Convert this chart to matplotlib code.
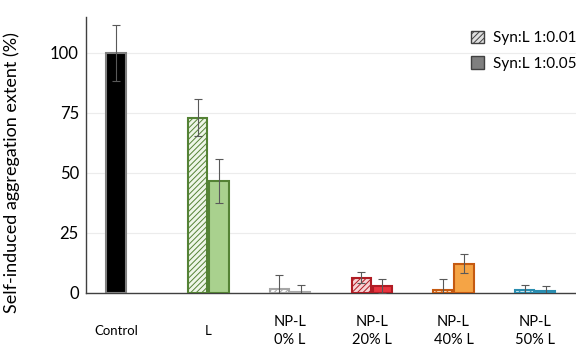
import matplotlib
matplotlib.use('Agg')
import matplotlib.pyplot as plt
import numpy as np
from matplotlib.patches import Patch

plt.rcParams['font.family'] = ['Lato', 'DejaVu Sans']
plt.rcParams['hatch.linewidth'] = 0.7

# data
categories = ['Control', 'L', 'NP-L\n0% L', 'NP-L\n20% L', 'NP-L\n40% L', 'NP-L\n50% L']
low_vals = [100, 73, 1.7, 6.4, 1.1, 1.2]      # Syn:L 1:0.01 (Control in this slot)
low_err = [11.7, 7.7, 5.8, 2.2, 4.5, 2.2]
high_vals = [None, 46.7, 0.5, 2.9, 12.1, 0.9]  # Syn:L 1:0.05
high_err = [None, 9.3, 2.8, 3.0, 4.0, 2.1]
yticks = [0, 25, 50, 75, 100]

# colours per category
face = ['black', '#a9d18e', '#f2f2f2', '#e8343f', '#f5a445', '#3fa9cc']
edge = ['#7f7f7f', '#548235', '#a6a6a6', '#b01c24', '#c55a11', '#2a8db0']
hatch_face = ['black', '#eef6e8', '#ffffff', '#f6d3d5', '#fde5c8', '#d5eef6']

fig = plt.figure(figsize=(5.76, 3.47), dpi=100)
ax = fig.add_axes([0.149, 0.156, 0.851, 0.795])

x = np.arange(len(categories))
w = 0.235
off = 0.13

for i in range(len(categories)):
    if i == 0:
        ax.bar(x[i] - off, low_vals[i], w, color=face[i], edgecolor=edge[i], linewidth=1.5, zorder=3)
    else:
        ax.bar(x[i] - off, low_vals[i], w, color=hatch_face[i], edgecolor=edge[i], hatch='//////',
               linewidth=1.5, zorder=3)
    ax.errorbar(x[i] - off, low_vals[i], yerr=low_err[i], color='#595959', lw=0.8, capsize=3,
                capthick=0.8, zorder=4)
    if high_vals[i] is not None:
        ax.bar(x[i] + off, high_vals[i], w, color=face[i], edgecolor=edge[i], linewidth=1.5, zorder=3)
        ax.errorbar(x[i] + off, high_vals[i], yerr=high_err[i], color='#595959', lw=0.8, capsize=3,
                    capthick=0.8, zorder=4)

ax.set_xlim(-0.5, 5.5)
ax.set_ylim(0, 115)
ax.set_yticks(yticks)
ax.tick_params(axis='y', length=0, labelsize=12, pad=5)
ax.tick_params(axis='x', length=0)
ax.set_xticks(x)
ax.set_xticklabels([])
for i, lab in enumerate(categories):
    fs = 9.5 if '\n' not in lab else 10.5
    xpos = x[i] - off if high_vals[i] is None else x[i]
    ax.text(xpos, -16, lab, ha='center', va='center', fontsize=fs, linespacing=1.4)

ax.grid(axis='y', color='#ececec', lw=0.8, zorder=0)
ax.spines['top'].set_visible(False)
ax.spines['right'].set_visible(False)
ax.spines['left'].set_color('#404040')
ax.spines['bottom'].set_color('#404040')
ax.spines['left'].set_linewidth(1.0)
ax.spines['bottom'].set_linewidth(1.0)
ax.set_ylabel('Self-induced aggregation extent (%)', fontsize=13)
ax.yaxis.set_label_coords(-0.135, 0.435)

handles = [Patch(facecolor='#e0e0e0', edgecolor='#404040', hatch='//////', label='Syn:L 1:0.01'),
           Patch(facecolor='#7f7f7f', edgecolor='#404040', label='Syn:L 1:0.05')]
ax.legend(handles=handles, loc='upper right', bbox_to_anchor=(1.03, 1.0), frameon=False,
          fontsize=11, handlelength=0.9, handleheight=0.9, handletextpad=0.6, labelspacing=0.7)

plt.savefig('out.png', dpi=100)
